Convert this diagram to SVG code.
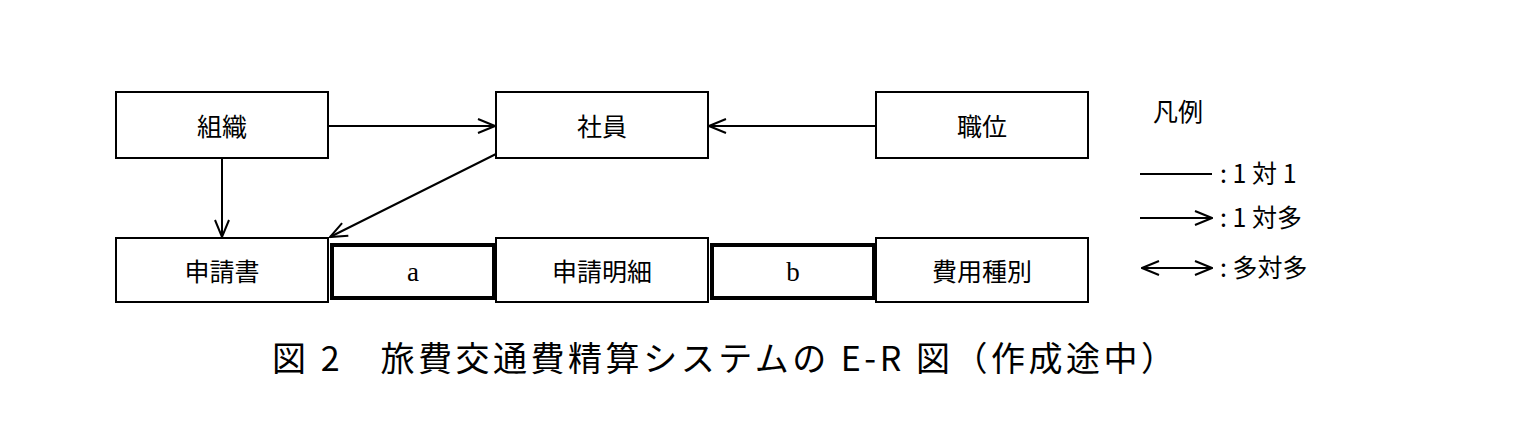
<svg xmlns="http://www.w3.org/2000/svg" width="1536" height="426" viewBox="0 0 1536 426">
<style>
.b{fill:#fff;stroke:#000;stroke-width:2}
.k{fill:#fff;stroke:#000;stroke-width:4}
.t{font-family:"Noto Sans CJK JP",sans-serif;font-size:25px;text-anchor:middle;dominant-baseline:central}
.l{font-family:"Noto Sans CJK JP",sans-serif;font-size:25px;dominant-baseline:central}
.s{font-family:"Liberation Serif",serif;font-size:27px;text-anchor:middle;dominant-baseline:central}
.c{stroke:#000;stroke-width:2;fill:none}
</style>
<defs>
<marker id="ar" viewBox="0 0 20 20" refX="19" refY="10" markerWidth="20" markerHeight="20" markerUnits="userSpaceOnUse" orient="auto-start-reverse"><path d="M2,3 L19,10 L2,17" fill="none" stroke="#000" stroke-width="2"/></marker>
</defs>
<rect width="1536" height="426" fill="#fff"/>
<g id="n1"><rect class="b" x="116" y="92" width="212" height="66"/><text class="t" x="222" y="125">組織</text></g>
<g id="n2"><rect class="b" x="496" y="92" width="212" height="66"/><text class="t" x="602" y="125">社員</text></g>
<g id="n3"><rect class="b" x="876" y="92" width="212" height="66"/><text class="t" x="982" y="125">職位</text></g>
<g id="n4"><rect class="b" x="116" y="238" width="212" height="64"/><text class="t" x="222" y="270">申請書</text></g>
<g id="n5"><rect class="k" x="332" y="245" width="162" height="53"/><text class="s" x="413" y="272">a</text></g>
<g id="n6"><rect class="b" x="496" y="238" width="212" height="64"/><text class="t" x="602" y="270">申請明細</text></g>
<g id="n7"><rect class="k" x="712" y="245" width="162" height="53"/><text class="s" x="793" y="272">b</text></g>
<g id="n8"><rect class="b" x="876" y="238" width="212" height="64"/><text class="t" x="982" y="270">費用種別</text></g>
<g id="connectors">
<line class="c" x1="328" y1="126" x2="495" y2="126" marker-end="url(#ar)"/>
<line class="c" x1="876" y1="126" x2="709" y2="126" marker-end="url(#ar)"/>
<line class="c" x1="222" y1="158" x2="222" y2="237" marker-end="url(#ar)"/>
<line class="c" x1="496" y1="154" x2="330" y2="237" marker-end="url(#ar)"/>
</g>
<g id="legend">
<text class="t" x="1178" y="110">凡例</text>
<line class="c" x1="1140" y1="174" x2="1212" y2="174"/>
<line class="c" x1="1140" y1="218" x2="1212" y2="218" marker-end="url(#ar)"/>
<line class="c" x1="1142" y1="268" x2="1212" y2="268" marker-start="url(#ar)" marker-end="url(#ar)"/>
<text class="l" x="1220" y="172">:  1 対 1</text>
<text class="l" x="1220" y="216">:  1 対多</text>
<text class="l" x="1220" y="266">: 多対多</text>
</g>
<text x="272" y="356" textLength="903" lengthAdjust="spacing" style="font-family:'Noto Sans CJK JP',sans-serif;font-size:34px;dominant-baseline:central">図 2　旅費交通費精算システムの E-R 図（作成途中）</text>
</svg>
